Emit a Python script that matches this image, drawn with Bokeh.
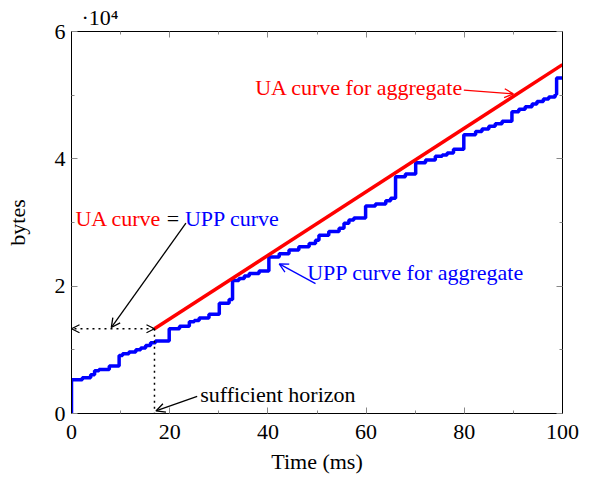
from bokeh.plotting import figure
from bokeh.models import (Range1d, FixedTicker, LinearAxis, Arrow, OpenHead, Label, Title)
from bokeh.embed import file_html
from bokeh.resources import INLINE

# ---- data ----
upp_t = [0, 0, 2.2, 3.9, 4.7, 5.6, 7.7, 9.7, 10.4, 11.7, 13.1, 14.1, 15.1, 16.1, 17.1,
         19.9, 22.0, 24.0, 25.0, 26.0, 28.0, 30.1, 32.1, 32.8, 34.1, 35.2, 36.2, 38.2,
         40.2, 42.3, 44.3, 46.3, 48.4, 49.7, 50.4, 52.4, 54.5, 55.5, 56.5, 57.5, 59.9,
         61.9, 64.0, 65.0, 66.0, 68.0, 70.1, 72.1, 74.1, 75.5, 76.5, 77.8, 79.9, 82.3,
         83.6, 85.0, 86.3, 87.7, 89.7, 91.1, 92.4, 93.8, 94.8, 96.1, 97.2, 98.5, 98.8, 100]
upp_v = [0, 5300, 5600, 6100, 6700, 6900, 7450, 9100, 9400, 9650, 10000, 10300, 10700, 11100, 11400,
         13300, 13700, 14400, 14600, 15000, 15600, 17300, 17900, 20900, 21200, 21600, 22000, 22400,
         24600, 25100, 25700, 26200, 26700, 27200, 28000, 28600, 29100, 29900, 30400, 30700, 32600,
         32900, 33400, 33800, 37200, 37600, 39400, 39800, 40400, 40600, 40900, 41500, 43800, 44300,
         44700, 45100, 45500, 45900, 47400, 47800, 48200, 48600, 49000, 49400, 49700, 50100, 52700, 52700]
ua_t = [16.9, 100]
ua_v = [13300, 54800]
horizon_t = 16.9
horizon_v = 13300

x_ticks = [0, 20, 40, 60, 80, 100]
x_minor = [10, 30, 50, 70, 90]
y_ticks = [0, 20000, 40000, 60000]
y_minor = [10000, 30000, 50000]
y_tick_labels = ["0", "2", "4", "6"]
y_scale_label = "·10⁴"

SERIF = "Liberation Serif"
FS = "22px"

p = figure(width=588, height=479, output_backend="svg", toolbar_location=None,
           x_range=Range1d(0, 100), y_range=Range1d(0, 60000),
           min_border_left=71, min_border_right=26, min_border_top=31, min_border_bottom=66,
           x_axis_label="Time (ms)", y_axis_label="bytes")
p.grid.visible = False
p.outline_line_color = "black"
p.outline_line_width = 1

p.xaxis.ticker = FixedTicker(ticks=x_ticks, minor_ticks=x_minor)
p.yaxis.ticker = FixedTicker(ticks=y_ticks, minor_ticks=y_minor)
p.yaxis.major_label_overrides = {t: l for t, l in zip(y_ticks, y_tick_labels)}

for ax in [p.xaxis[0], p.yaxis[0]]:
    ax.major_tick_in = 6
    ax.major_tick_out = 0
    ax.minor_tick_in = 3
    ax.minor_tick_out = 0
    ax.major_tick_line_color = "#888888"
    ax.minor_tick_line_color = "#888888"
    ax.axis_line_color = "black"
    ax.major_label_text_font = SERIF
    ax.major_label_text_font_size = FS
    ax.major_label_text_color = "black"
    ax.axis_label_text_font = SERIF
    ax.axis_label_text_font_size = FS
    ax.axis_label_text_font_style = "normal"
    ax.axis_label_text_color = "black"
p.xaxis.major_label_standoff = 11
p.yaxis.major_label_standoff = 6
p.xaxis.axis_label_standoff = 7
p.yaxis.axis_label_standoff = 22

for loc, tk, mn in [("right", y_ticks, y_minor), ("above", x_ticks, x_minor)]:
    ax = LinearAxis(ticker=FixedTicker(ticks=tk, minor_ticks=mn))
    ax.major_tick_in = 6
    ax.major_tick_out = 0
    ax.minor_tick_in = 3
    ax.minor_tick_out = 0
    ax.major_tick_line_color = "#888888"
    ax.minor_tick_line_color = "#888888"
    ax.major_label_overrides = {t: "" for t in tk}
    ax.major_label_standoff = 0
    ax.axis_line_color = "black"
    p.add_layout(ax, loc)

p.add_layout(Title(text=y_scale_label, align="left", offset=10, text_font=SERIF,
                   text_font_size=FS, text_font_style="normal", text_color="black",
                   standoff=4), "above")

# curves
p.step(upp_t, upp_v, mode="after", line_color="#0000ff", line_width=3.5)
p.line(ua_t, ua_v, line_color="#ff0000", line_width=3.5)

# dotted horizon lines
p.add_layout(Arrow(x_start=horizon_t, y_start=horizon_v, x_end=0, y_end=horizon_v,
                   line_dash="2 4", line_width=1.5, line_color="black",
                   start=OpenHead(size=8, line_width=1.2), end=OpenHead(size=8, line_width=1.2)))
p.line([horizon_t, horizon_t], [horizon_v, 0], line_dash="2 4", line_width=1.5, line_color="black")

# annotation arrows
p.add_layout(Arrow(x_start=23.3, y_start=29900, x_end=8.1, y_end=13500, line_color="black",
                   line_width=1.3, end=OpenHead(size=9, line_width=1.3)))
p.add_layout(Arrow(x_start=25.6, y_start=2700, x_end=17.2, y_end=400, line_color="black",
                   line_width=1.3, end=OpenHead(size=9, line_width=1.3)))
p.add_layout(Arrow(x_start=49.7, y_start=20400, x_end=42.3, y_end=23500, line_color="#0000ff",
                   line_width=1.3, end=OpenHead(size=9, line_width=1.3, line_color="#0000ff")))
p.add_layout(Arrow(x_start=79.9, y_start=50800, x_end=90.0, y_end=50200, line_color="#ff0000",
                   line_width=1.3, end=OpenHead(size=9, line_width=1.3, line_color="#ff0000")))

def lab(x, y, text, color, size=FS, baseline="middle"):
    p.add_layout(Label(x=x, y=y, text=text, text_color=color, text_font=SERIF,
                       text_font_size=size, text_baseline=baseline, text_align="left"))

lab(0.8, 30700, "UA curve", "#ff0000")
lab(19.4, 30700, "=", "black")
lab(23.1, 30700, "UPP curve", "#0000ff")
lab(48.0, 22200, "UPP curve for aggregate", "#0000ff")
lab(37.4, 51200, "UA curve for aggregate", "#ff0000")
lab(26.2, 3000, "sufficient horizon", "black")

open("out.html", "w").write(file_html(p, INLINE))
